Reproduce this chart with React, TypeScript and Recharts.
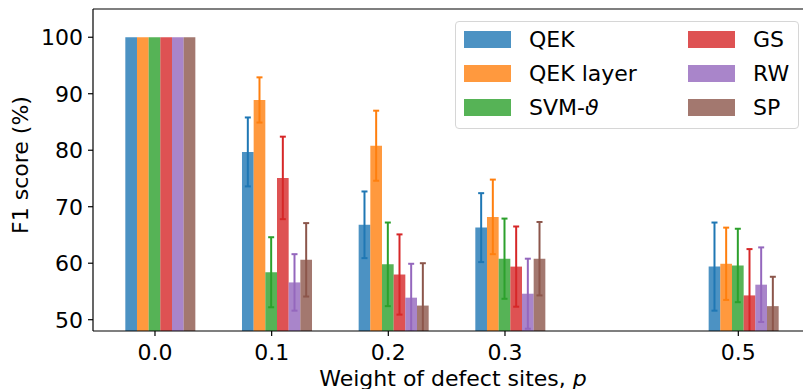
import React from 'react';
import { ComposedChart, Bar, XAxis, YAxis, ErrorBar, ReferenceLine } from 'recharts';

// x positions (weight of defect sites p); 0.4 has no runs, it only keeps the gap
const categories = ['0.0', '0.1', '0.2', '0.3', '0.4', '0.5'];
const xTicks = ['0.0', '0.1', '0.2', '0.3', '0.5'];
const yTicks = [50, 60, 70, 80, 90, 100];

// mean F1 score (%)
const qek = [100, 79.7, 66.8, 66.3, null, 59.4];
const qekLayer = [100, 88.9, 80.8, 68.2, null, 59.9];
const svmTheta = [100, 58.4, 59.8, 60.8, null, 59.6];
const gs = [100, 75.1, 58.0, 59.4, null, 54.3];
const rw = [100, 56.6, 53.9, 54.6, null, 56.2];
const sp = [100, 60.6, 52.5, 60.8, null, 52.4];

// std of F1 score
const qekErr = [0, 6.1, 5.9, 6.1, null, 7.8];
const qekLayerErr = [0, 4.0, 6.2, 6.6, null, 6.4];
const svmThetaErr = [0, 6.2, 7.4, 7.1, null, 6.5];
const gsErr = [0, 7.3, 7.1, 7.1, null, 8.2];
const rwErr = [0, 5.0, 6.0, 6.2, null, 6.6];
const spErr = [0, 6.5, 7.5, 6.5, null, 5.2];

const series = [
  { key: 'qek', name: 'QEK', color: '#1f77b4', values: qek, err: qekErr },
  { key: 'qekLayer', name: 'QEK layer', color: '#ff7f0e', values: qekLayer, err: qekLayerErr },
  { key: 'svm', name: 'SVM-ϑ', color: '#2ca02c', values: svmTheta, err: svmThetaErr },
  { key: 'gs', name: 'GS', color: '#d62728', values: gs, err: gsErr },
  { key: 'rw', name: 'RW', color: '#9467bd', values: rw, err: rwErr },
  { key: 'sp', name: 'SP', color: '#8c564b', values: sp, err: spErr },
];

const data = categories.map((p, i) => {
  const row: any = { p };
  series.forEach(s => {
    row[s.key] = s.values[i];
    row[s.key + 'Err'] = s.err[i];
  });
  return row;
});

const FONT = '"DejaVu Sans", sans-serif';
const FS = 22;

// plot box, used to clip error bars that run under the x axis
const PLOT = { x: 93, y: 9, w: 710, h: 322 };

const renderName = (name: string) => {
  // theta is set in math italic like the matplotlib label
  if (name.endsWith('ϑ')) {
    return <>{name.slice(0, -1)}<i>ϑ</i></>;
  }
  return name;
};

const YTitle = () => (
  <text transform="translate(28,165) rotate(-90)" textAnchor="middle" fontSize={FS} fontFamily={FONT} fill="#000">
    F1 score (%)
  </text>
);

const XTitle = () => (
  <text x={453} y={386} textAnchor="middle" fontSize={FS} fontFamily={FONT} fill="#000">
    Weight of defect sites, <tspan fontStyle="italic">p</tspan>
  </text>
);

const LegendBox = () => (
  <div
    style={{
      position: 'absolute',
      left: 455,
      top: 21,
      width: 344,
      height: 108,
      boxSizing: 'border-box',
      border: '1px solid #d6d6d6',
      borderRadius: 4,
      background: 'rgba(255,255,255,0.8)',
      fontFamily: FONT,
      fontSize: FS,
      color: '#000',
    }}
  >
    {series.map((s, i) => {
      const col = Math.floor(i / 3);
      const row = i % 3;
      return (
        <div
          key={s.key}
          style={{
            position: 'absolute',
            left: col === 0 ? 8 : 232,
            top: 9 + row * 34,
            height: 17,
            display: 'flex',
            alignItems: 'center',
            whiteSpace: 'nowrap',
          }}
        >
          <span style={{ display: 'inline-block', width: 47, height: 17, background: s.color, opacity: 0.8 }} />
          <span style={{ marginLeft: 18, lineHeight: '17px' }}>{renderName(s.name)}</span>
        </div>
      );
    })}
  </div>
);

export default function App() {
  return (
    <div style={{ position: 'absolute', left: 0, top: 0, width: 803, height: 389, overflow: 'hidden', background: '#fff' }}>
      <style>{'.recharts-errorBars { clip-path: url(#plotClip); }'}</style>
      <ComposedChart
        width={803}
        height={389}
        data={data}
        margin={{ top: 9, right: 0, bottom: 0, left: 0 }}
        barSize={11.67}
        barGap={0}
      >
        <defs>
          <clipPath id="plotClip">
            <rect x={PLOT.x} y={PLOT.y} width={PLOT.w} height={PLOT.h} />
          </clipPath>
        </defs>
        <XAxis
          dataKey="p"
          type="category"
          ticks={xTicks}
          interval={0}
          height={58}
          padding={{ left: 3.65, right: 6.35 }}
          tickSize={5}
          tickMargin={8}
          axisLine={{ stroke: '#000', strokeWidth: 1.2 }}
          tickLine={{ stroke: '#000', strokeWidth: 1.2 }}
          tick={{ fontSize: FS, fontFamily: FONT, fill: '#000' }}
          label={<XTitle />}
        />
        <YAxis
          type="number"
          domain={[48, 105]}
          allowDataOverflow
          ticks={yTicks}
          interval={0}
          width={93}
          tickSize={5}
          tickMargin={5}
          axisLine={{ stroke: '#000', strokeWidth: 1.2 }}
          tickLine={{ stroke: '#000', strokeWidth: 1.2 }}
          tick={{ fontSize: FS, fontFamily: FONT, fill: '#000' }}
          label={<YTitle />}
        />
        <ReferenceLine y={105} stroke="#000" strokeWidth={1.2} />
        {/* empty slot so the six bars sit just right of each tick, as in the original */}
        <Bar dataKey="pad" isAnimationActive={false} legendType="none" />
        {series.map(s => (
          <Bar key={s.key} dataKey={s.key} name={s.name} fill={s.color} fillOpacity={0.8} isAnimationActive={false}>
            <ErrorBar dataKey={s.key + 'Err'} direction="y" width={3} strokeWidth={2} stroke={s.color} isAnimationActive={false} />
          </Bar>
        ))}
      </ComposedChart>
      <LegendBox />
    </div>
  );
}
